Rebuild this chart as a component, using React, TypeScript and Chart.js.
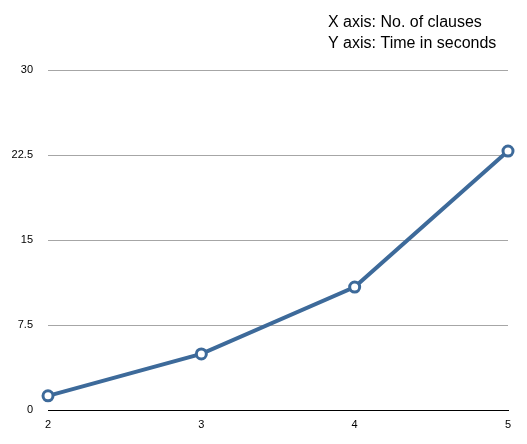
import React, { useEffect, useRef } from "react";
import { Chart, registerables } from "chart.js";

Chart.register(...registerables);

const clauses = [2, 3, 4, 5];
const timeSeconds = [1.25, 4.95, 10.85, 22.85];
const yTicks = [0, 7.5, 15, 22.5, 30];
const noteLines = ["X axis: No. of clauses", "Y axis: Time in seconds"];

const FONT = "'Liberation Sans', Arial, Helvetica, sans-serif";

export default function App() {
  const ref = useRef<HTMLCanvasElement>(null);

  useEffect(() => {
    document.body.style.margin = "0";
    const canvas = ref.current!;
    const notePlugin = {
      id: "notes",
      afterDraw(chart: any) {
        const ctx = chart.ctx;
        ctx.save();
        ctx.fillStyle = "#000";
        ctx.font = `16px ${FONT}`;
        ctx.textAlign = "left";
        ctx.textBaseline = "alphabetic";
        noteLines.forEach((t, i) => ctx.fillText(t, 328, 27 + i * 21));
        ctx.restore();
      },
    };
    const chart = new Chart(canvas, {
      type: "line",
      data: {
        datasets: [
          {
            data: clauses.map((c, i) => ({ x: c, y: timeSeconds[i] })),
            borderColor: "#3d6a9a",
            borderWidth: 4,
            pointRadius: 5,
            pointBorderWidth: 3,
            pointBackgroundColor: "#ffffff",
            pointBorderColor: "#3d6a9a",
            tension: 0,
            clip: false,
          } as any,
        ],
      },
      options: {
        animation: false,
        responsive: false,
        layout: { padding: { top: 70, right: 19, left: 0, bottom: 0 } },
        plugins: { legend: { display: false }, tooltip: { enabled: false } },
        scales: {
          x: {
            type: "linear",
            min: 2,
            max: 5,
            afterBuildTicks(scale: any) {
              scale.ticks = clauses.map((v) => ({ value: v }));
            },
            afterFit(scale: any) {
              scale.height = 34;
            },
            grid: { display: false, drawTicks: false },
            border: { display: true, color: "#000000", width: 1 },
            ticks: {
              color: "#000",
              font: { family: FONT, size: 11 },
              padding: 8,
              maxRotation: 0,
            },
          },
          y: {
            min: 0,
            max: 30,
            afterBuildTicks(scale: any) {
              scale.ticks = yTicks.map((v) => ({ value: v }));
            },
            afterFit(scale: any) {
              scale.width = 48;
            },
            grid: {
              color: (c: any) => (c.tick && c.tick.value === 0 ? "#000000" : "#a6a6a6"),
              drawTicks: false,
              lineWidth: 1,
            },
            border: { display: false },
            ticks: {
              color: "#000",
              font: { family: FONT, size: 11 },
              padding: 15,
              callback: (v: any) => String(v),
            },
          },
        },
      },
      plugins: [notePlugin],
    });
    return () => chart.destroy();
  }, []);

  return (
    <div style={{ position: "relative", width: 527, height: 444, background: "#fff" }}>
      <canvas ref={ref} width={527} height={444} style={{ display: "block" }} />
    </div>
  );
}
